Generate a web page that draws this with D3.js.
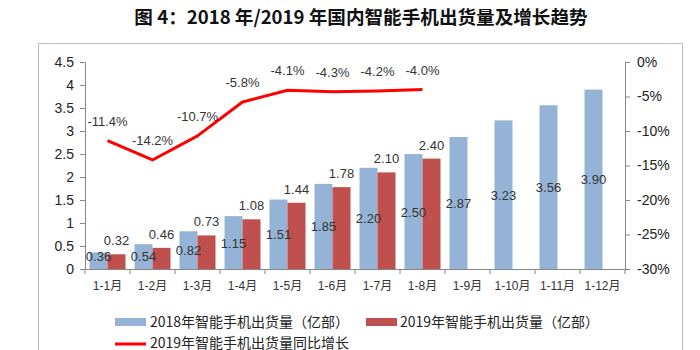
<!DOCTYPE html>
<html><head><meta charset="utf-8">
<script src="https://cdn.jsdelivr.net/npm/d3@7"></script>
<style>
body{margin:0;background:#fff;}
svg{display:block;font-family:"Liberation Sans",Arial,sans-serif;}
</style></head>
<body><svg id="c" width="700" height="350"></svg>
<script>
const title = "图 4：2018 年/2019 年国内智能手机出货量及增长趋势";
const categories = ["1-1月","1-2月","1-3月","1-4月","1-5月","1-6月","1-7月","1-8月","1-9月","1-10月","1-11月","1-12月"];
const ship2018 = [0.36,0.54,0.82,1.15,1.51,1.85,2.20,2.50,2.87,3.23,3.56,3.90];
const ship2019 = [0.32,0.46,0.73,1.08,1.44,1.78,2.10,2.40];
const growth2019 = [-11.4,-14.2,-10.7,-5.8,-4.1,-4.3,-4.2,-4.0];
const leftTicks = [0,0.5,1,1.5,2,2.5,3,3.5,4,4.5];
const rightTicks = [0,-5,-10,-15,-20,-25,-30];
const seriesNames = ["2018年智能手机出货量（亿部）","2019年智能手机出货量（亿部）","2019年智能手机出货量同比增长"];

const svg = d3.select("#c");
svg.append("rect").attr("width",700).attr("height",350).attr("fill","#fff");
svg.append("rect").attr("x",38.5).attr("y",43.5).attr("width",644).attr("height",330)
  .attr("fill","none").attr("stroke","#bfbfbf").attr("stroke-width",1);

svg.append("text").attr("x",361).attr("y",24).attr("text-anchor","middle")
  .attr("font-family","'Noto Sans CJK SC',sans-serif").attr("font-weight","bold")
  .attr("font-size",18.6).attr("fill","#111").text(title);

const L=85, R=625, T=62, B=269;
const x = d3.scaleBand().domain(categories).range([L,R]).padding(0);
const sub = d3.scaleBand().domain(["a","b"]).range([0,x.bandwidth()]).paddingInner(0).paddingOuter(0.25);
const y = d3.scaleLinear().domain([0,4.5]).range([B,T]);
const y2 = d3.scaleLinear().domain([-30,0]).range([B,T]);

const axisColor="#868686";
// bars
svg.append("g").selectAll("rect").data(ship2018).join("rect")
  .attr("x",(d,i)=>x(categories[i])+sub("a")).attr("width",sub.bandwidth())
  .attr("y",d=>y(d)).attr("height",d=>B-y(d)).attr("fill","#95b3d7");
svg.append("g").selectAll("rect").data(ship2019).join("rect")
  .attr("x",(d,i)=>x(categories[i])+sub("b")).attr("width",sub.bandwidth())
  .attr("y",d=>y(d)).attr("height",d=>B-y(d)).attr("fill","#c0504d");

// axes
const gl = svg.append("g").attr("transform",`translate(${L},0)`)
  .call(d3.axisLeft(y).tickValues(leftTicks).tickSize(5).tickSizeOuter(0).tickPadding(6).tickFormat(d=>d3.format("")(d)));
const gr = svg.append("g").attr("transform",`translate(${R},0)`)
  .call(d3.axisRight(y2).tickValues(rightTicks).tickSize(5).tickSizeOuter(0).tickPadding(7).tickFormat(d=>d+"%"));
const gb = svg.append("g").attr("transform",`translate(0,${B})`)
  .call(d3.axisBottom(x).tickSize(0).tickPadding(12));
[gl,gr,gb].forEach(g=>{
  g.selectAll("path").attr("stroke",axisColor);
  g.selectAll("line").attr("stroke",axisColor);
  g.selectAll("text").attr("fill","#222").attr("font-family","'Liberation Sans',Arial,sans-serif");
});
gl.selectAll("text").attr("font-size",14);
gr.selectAll("text").attr("font-size",14);
gb.selectAll("text").attr("font-size",12).attr("font-family","'Liberation Sans','Noto Sans CJK SC',sans-serif").attr("fill","#333");
// bottom tick marks at band boundaries
svg.append("g").selectAll("line").data(categories.concat(["_end"])).join("line")
  .attr("x1",(d,i)=>L+i*x.step()).attr("x2",(d,i)=>L+i*x.step())
  .attr("y1",B).attr("y2",B+5).attr("stroke",axisColor);

// line
const line = d3.line().x((d,i)=>x(categories[i])+x.bandwidth()/2).y(d=>y2(d));
svg.append("path").datum(growth2019).attr("d",line).attr("fill","none")
  .attr("stroke","#ff0000").attr("stroke-width",3).attr("stroke-linejoin","round");

// labels
const lab = svg.append("g").attr("font-size",13).attr("fill","#333").attr("text-anchor","middle");
lab.selectAll("text.g").data(growth2019).join("text").attr("class","g")
  .attr("x",(d,i)=>x(categories[i])+x.bandwidth()/2).attr("y",d=>y2(d)-15)
  .text(d=>d.toFixed(1)+"%");
lab.selectAll("text.a").data(ship2018).join("text").attr("class","a")
  .attr("x",(d,i)=>x(categories[i])+sub("a")+sub.bandwidth()/2)
  .attr("y",d=>Math.min((y(d)+B)/2, B-13)+5)
  .text(d=>d.toFixed(2));
lab.selectAll("text.b").data(ship2019).join("text").attr("class","b")
  .attr("x",(d,i)=>x(categories[i])+sub("b")+sub.bandwidth()/2)
  .attr("y",d=>y(d)-9)
  .text(d=>d.toFixed(2));

// legend
const lg = svg.append("g").attr("font-family","'Noto Sans CJK SC',sans-serif").attr("font-size",14).attr("fill","#222");
lg.append("rect").attr("x",115).attr("y",318).attr("width",31).attr("height",8).attr("fill","#95b3d7");
lg.append("text").attr("x",150).attr("y",327).text(seriesNames[0]);
lg.append("rect").attr("x",366).attr("y",318).attr("width",31).attr("height",8).attr("fill","#c0504d");
lg.append("text").attr("x",400).attr("y",327).text(seriesNames[1]);
lg.append("line").attr("x1",115).attr("x2",146).attr("y1",344).attr("y2",344).attr("stroke","#ff0000").attr("stroke-width",3);
lg.append("text").attr("x",150).attr("y",347.5).text(seriesNames[2]);
</script></body></html>
